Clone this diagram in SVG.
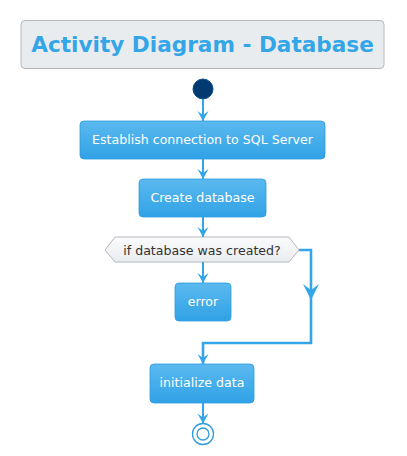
<svg xmlns="http://www.w3.org/2000/svg" width="407" height="456" viewBox="0 0 407 456">
<defs>
<linearGradient id="g" x1="0" y1="0" x2="0" y2="1"><stop offset="0" stop-color="#5BB9EF"/><stop offset="1" stop-color="#30A2E6"/></linearGradient>
<linearGradient id="gd" x1="0" y1="0" x2="0" y2="1"><stop offset="0" stop-color="#FBFBFC"/><stop offset="1" stop-color="#E9ECEF"/></linearGradient>
<marker id="ah" viewBox="0 0 10 12" refX="10" refY="6" markerWidth="10" markerHeight="12" markerUnits="userSpaceOnUse" orient="auto">
<path d="M0,0.5 L10,6 L0,11.5 L4,6 Z" fill="#34A6E8"/>
</marker>
</defs>
<style>
.box{fill:url(#g);stroke:#2C9CDD;stroke-width:0.8}
.bt{font-family:"DejaVu Sans",sans-serif;font-size:12.6px;fill:#FFFFFF;text-anchor:middle}
.ln{fill:none;stroke:#34A6E8;stroke-width:2}
.ln2{fill:none;stroke:#34A6E8;stroke-width:2.6}
</style>
<g id="title">
<rect x="21" y="20.5" width="363" height="48" rx="4" fill="#E9ECEF" stroke="#B4B8BC" stroke-width="1"/>
<text x="202.5" y="52" font-family="DejaVu Sans,sans-serif" font-size="21.6" font-weight="bold" fill="#34A6E8" text-anchor="middle">Activity Diagram - Database</text>
</g>
<g id="start"><circle cx="203" cy="89" r="10" fill="#003A70" stroke="#0A4F8C" stroke-width="1"/></g>
<g id="n1"><rect class="box" x="80" y="121" width="245" height="38" rx="4"/><text class="bt" x="202.5" y="144">Establish connection to SQL Server</text></g>
<g id="n2"><rect class="box" x="139" y="179" width="127" height="38" rx="4"/><text class="bt" x="202.5" y="202">Create database</text></g>
<g id="d1"><polygon points="105,250 115,237 289,237 299,250 289,262 115,262" fill="url(#gd)" stroke="#B4B8BC" stroke-width="1"/><text x="202" y="255" font-family="DejaVu Sans,sans-serif" font-size="12.6" fill="#333333" text-anchor="middle">if database was created?</text></g>
<g id="n3"><rect class="box" x="175" y="283" width="56" height="38" rx="4"/><text class="bt" x="203" y="306">error</text></g>
<g id="n4"><rect class="box" x="150" y="364" width="104" height="39" rx="4"/><text class="bt" x="202" y="387">initialize data</text></g>
<g id="end"><circle cx="203" cy="434" r="10.5" fill="none" stroke="#2E9BDB" stroke-width="1.3"/><circle cx="203" cy="434" r="6" fill="none" stroke="#2E9BDB" stroke-width="1.3"/></g>
<g id="connectors">
<line class="ln" x1="203" y1="99" x2="203" y2="121" marker-end="url(#ah)"/>
<line class="ln" x1="203" y1="159" x2="203" y2="179" marker-end="url(#ah)"/>
<line class="ln" x1="203" y1="217" x2="203" y2="237" marker-end="url(#ah)"/>
<line class="ln" x1="203" y1="262" x2="203" y2="283" marker-end="url(#ah)"/>
<path class="ln2" d="M299,250 H311 V343 H203 V364" marker-end="url(#ah)"/>
<path d="M303,284 L311,300 L319,284 L311,290 Z" fill="#34A6E8"/>
<line class="ln" x1="203" y1="403" x2="203" y2="423.5" marker-end="url(#ah)"/>
</g>
</svg>
